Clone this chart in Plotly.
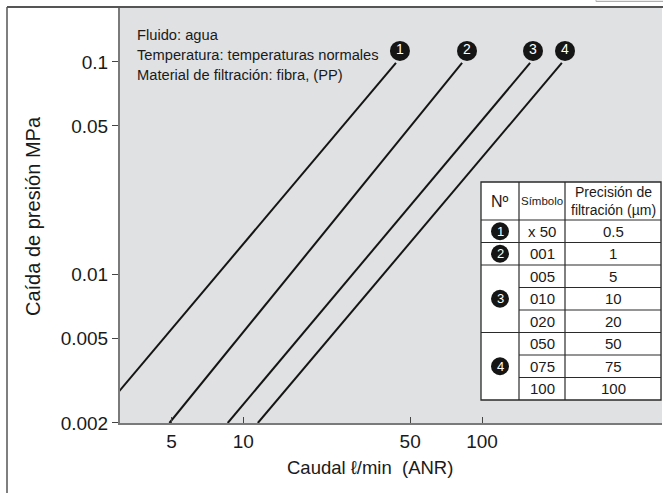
import plotly.graph_objects as go

# ---------------- data ----------------
line_names = ["1", "2", "3", "4"]
flow_start = [3.0, 4.9, 8.6, 11.5]        # l/min at lower end
flow_end = [43.6, 82.5, 159.0, 216.0]     # l/min at upper end
dp_start = [0.0028, 0.002, 0.002, 0.002]  # MPa
dp_end = [0.099, 0.099, 0.099, 0.099]     # MPa

label_flow = [45.3, 86.5, 163.5, 222.7]
label_dp = [0.1127, 0.1127, 0.1127, 0.1127]

x_tickvals = [5, 10, 50, 100]
x_ticktext = ["5", "10", "50", "100"]
y_tickvals = [0.002, 0.005, 0.01, 0.05, 0.1]
y_ticktext = ["0.002", "0.005", "0.01", "0.05", "0.1"]

info_lines = ["Fluido: agua",
              "Temperatura: temperaturas normales",
              "Material de filtración: fibra, (PP)"]

table_no = ["1", "2", "3", "4"]
table_groups = [[0], [1], [2, 3, 4], [5, 6, 7]]
table_symbol = ["x 50", "001", "005", "010", "020", "050", "075", "100"]
table_precision = ["0.5", "1", "5", "10", "20", "50", "75", "100"]

# ---------------- layout geometry ----------------
W, H = 663, 493
L, R, T, B = 120, 662, 8, 423
FONT = "Liberation Sans, Arial, sans-serif"
TXT = "#1a1a1a"


def px_x(px):
    return (px - L) / (R - L)


def px_y(py):
    return (B - py) / (B - T)


def note(text, x, y, size, color=TXT, xanchor="center", **kw):
    return dict(text=text, xref="paper", yref="paper", x=px_x(x), y=px_y(y),
                xanchor=xanchor, yanchor="middle", showarrow=False,
                font=dict(size=size, color=color, family=FONT), **kw)


fig = go.Figure()

for i in range(len(line_names)):
    fig.add_trace(go.Scatter(
        x=[flow_start[i], flow_end[i]], y=[dp_start[i], dp_end[i]],
        mode="lines", line=dict(color="#151515", width=2),
        showlegend=False, hoverinfo="skip", cliponaxis=True))

fig.add_trace(go.Scatter(
    x=label_flow, y=label_dp, mode="markers+text",
    marker=dict(size=20, color="#151515", line=dict(width=0)),
    text=line_names, textposition="middle center",
    textfont=dict(color="white", size=14, family=FONT),
    showlegend=False, hoverinfo="skip", cliponaxis=False))

shapes = []
annotations = []

# outer frame
shapes.append(dict(type="line", xref="paper", yref="paper",
                   x0=px_x(7), x1=px_x(7), y0=px_y(7), y1=px_y(H),
                   line=dict(color="#555555", width=1.5)))
shapes.append(dict(type="line", xref="paper", yref="paper",
                   x0=px_x(7), x1=px_x(W), y0=px_y(7), y1=px_y(7),
                   line=dict(color="#555555", width=2)))
# small box cut at the top-right edge
shapes.append(dict(type="rect", xref="paper", yref="paper",
                   x0=px_x(596), x1=px_x(W + 2), y0=px_y(1.5), y1=px_y(-3),
                   fillcolor="#ececec", line=dict(color="#b0b0b0", width=1)))

# info text
info_y = [35, 55, 75]
for t, yy in zip(info_lines, info_y):
    annotations.append(note(t, 135, yy, 14.7, xanchor="left"))

# table
tx = [481, 519, 565, 661]
ty_head = [182, 220]
row_h = 22.5
ty_rows = [220 + row_h * k for k in range(len(table_symbol) + 1)]
shapes.append(dict(type="rect", xref="paper", yref="paper",
                   x0=px_x(tx[0]), x1=px_x(tx[3]), y0=px_y(ty_head[0]), y1=px_y(ty_rows[-1]),
                   fillcolor="white", line=dict(color="#2a2a2a", width=1.3), layer="above"))
for xv in tx[1:3]:
    shapes.append(dict(type="line", xref="paper", yref="paper",
                       x0=px_x(xv), x1=px_x(xv), y0=px_y(ty_head[0]), y1=px_y(ty_rows[-1]),
                       line=dict(color="#2a2a2a", width=1.2), layer="above"))
group_starts = set(g[0] for g in table_groups)
for k in range(len(table_symbol)):
    yv = ty_rows[k]
    x_start = tx[0] if k in group_starts else tx[1]
    shapes.append(dict(type="line", xref="paper", yref="paper",
                       x0=px_x(x_start), x1=px_x(tx[3]), y0=px_y(yv), y1=px_y(yv),
                       line=dict(color="#2a2a2a", width=1.2), layer="above"))

head_cy = (ty_head[0] + ty_head[1]) / 2
annotations.append(note("Nº", (tx[0] + tx[1]) / 2, head_cy, 16))
annotations.append(note("Símbolo", (tx[1] + tx[2]) / 2, head_cy, 11.5))
annotations.append(note("Precisión de<br>filtración (µm)", (tx[2] + tx[3]) / 2, head_cy, 14))
for k in range(len(table_symbol)):
    cy = (ty_rows[k] + ty_rows[k + 1]) / 2
    annotations.append(note(table_symbol[k], (tx[1] + tx[2]) / 2, cy, 15))
    annotations.append(note(table_precision[k], (tx[2] + tx[3]) / 2, cy, 15))

r = 9
cx = (tx[0] + tx[1]) / 2
for name, g in zip(table_no, table_groups):
    cy = (ty_rows[g[0]] + ty_rows[g[-1] + 1]) / 2
    shapes.append(dict(type="circle", xref="paper", yref="paper",
                       x0=px_x(cx - r), x1=px_x(cx + r), y0=px_y(cy + r), y1=px_y(cy - r),
                       fillcolor="#151515", line=dict(width=0), layer="above"))
    annotations.append(note(name, cx, cy, 13, color="white"))

# axis titles
annotations.append(note("Caída de presión MPa", 33, 216, 20, textangle=-90))
annotations.append(note("Caudal ℓ/min  (ANR)", 370, 467, 18.5))

fig.update_layout(
    width=W, height=H,
    margin=dict(l=L, r=W - R, t=T, b=H - B, pad=0),
    paper_bgcolor="white", plot_bgcolor="#e0e1e3",
    font=dict(family=FONT, color=TXT),
    shapes=shapes, annotations=annotations,
    xaxis=dict(type="log", range=[0.4833, 2.754], tickvals=x_tickvals, ticktext=x_ticktext,
               ticks="inside", ticklen=6, tickwidth=1, tickcolor="#444",
               showline=True, linecolor="#7a7a7a", linewidth=2,
               showgrid=False, zeroline=False, tickfont=dict(size=19, color=TXT)),
    yaxis=dict(type="log", range=[-2.699, -0.746], tickvals=y_tickvals, ticktext=y_ticktext,
               ticks="outside", ticklen=6, tickwidth=1, tickcolor="#444",
               showline=True, linecolor="#7a7a7a", linewidth=2,
               showgrid=False, zeroline=False, tickfont=dict(size=19, color=TXT)),
)

fig.write_html("out.html")
